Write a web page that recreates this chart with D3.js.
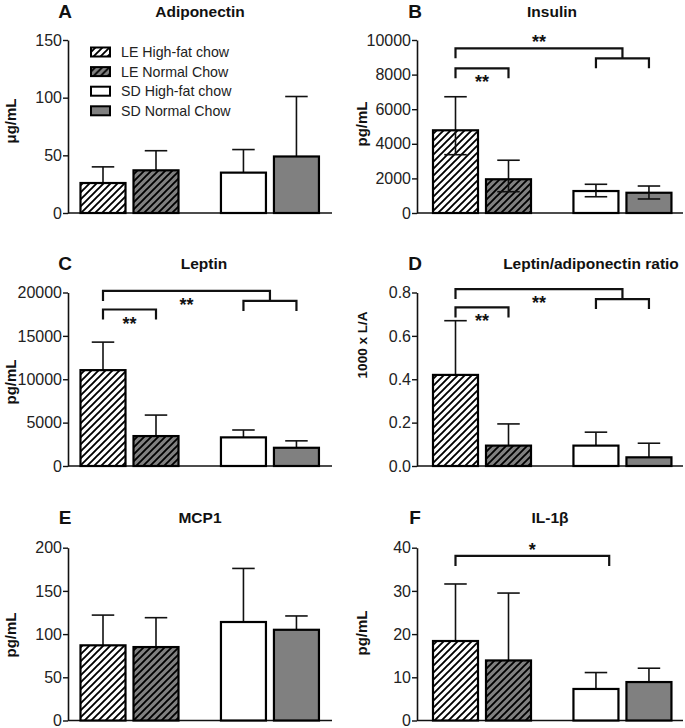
<!DOCTYPE html>
<html>
<head>
<meta charset="utf-8">
<script src="https://cdn.jsdelivr.net/npm/d3@7"></script>
<style>
  body { margin: 0; background: #fff; }
  svg { display: block; font-family: "Liberation Sans", Arial, sans-serif; }
</style>
</head>
<body>
<svg id="chart"></svg>
<script>
var W = 685, H = 728;

// groups, in bar order
var groups = ["LE High-fat chow", "LE Normal Chow", "SD High-fat chow", "SD Normal Chow"];

// values (mean, top of error bar, bottom of error bar)
var adiponectin = [26, 37, 35, 49];
var adiponectinHi = [40, 54, 55, 101];
var insulin = [4780, 1950, 1270, 1170];
var insulinHi = [6720, 3050, 1660, 1560];
var insulinLo = [3370, 1230, 940, 810];
var leptin = [11050, 3450, 3300, 2100];
var leptinHi = [14280, 5870, 4150, 2900];
var ratio = [0.42, 0.094, 0.094, 0.04];
var ratioHi = [0.67, 0.194, 0.156, 0.105];
var mcp1 = [87, 85, 114, 105];
var mcp1Hi = [122, 119, 176, 121];
var il1b = [18.4, 13.9, 7.3, 8.9];
var il1bHi = [31.6, 29.5, 11.1, 12.1];

// tick labels
var ticksA = [0, 50, 100, 150];
var ticksB = [0, 2000, 4000, 6000, 8000, 10000];
var ticksC = [0, 5000, 10000, 15000, 20000];
var ticksD = [0, 0.2, 0.4, 0.6, 0.8];
var ticksE = [0, 50, 100, 150, 200];
var ticksF = [0, 10, 20, 30, 40];

// bar slots (second group set apart)
var slots = [0, 1, 2.65, 3.65];

var cols = [
  {axisX: 68, endX: 332, bar0: 103, labX: 11, letX: 65},
  {axisX: 417, endX: 683, bar0: 455.5, labX: 362, letX: 415}
];
var rows = [
  {top: 40, bottom: 213, titleY: 11},
  {top: 292.5, bottom: 466, titleY: 263},
  {top: 547.7, bottom: 720.5, titleY: 517}
];

var panels = [
  {letter: "A", title: "Adiponectin", titleX: 200, ylab: "\u03bcg/mL", labY: 121, labSize: 15, col: 0, row: 0,
   vals: adiponectin, hi: adiponectinHi, lo: null, ticks: ticksA, fmt: d3.format("d"), brackets: [], legend: true},
  {letter: "B", title: "Insulin", titleX: 552, ylab: "pg/mL", labY: 124, labSize: 15, col: 1, row: 0,
   vals: insulin, hi: insulinHi, lo: insulinLo, ticks: ticksB, fmt: d3.format("d"),
   brackets: [{a: 0, b: [2, 3], y: 9520, label: "**", pos: "above"},
              {a: 0, b: 1, y: 8365, label: "**", pos: "below"}]},
  {letter: "C", title: "Leptin", titleX: 204, ylab: "pg/mL", labY: 382, labSize: 15, col: 0, row: 1,
   vals: leptin, hi: leptinHi, lo: null, ticks: ticksC, fmt: d3.format("d"),
   brackets: [{a: 0, b: [2, 3], y: 20185, label: "**", pos: "below"},
              {a: 0, b: 1, y: 18040, label: "**", pos: "below"}]},
  {letter: "D", title: "Leptin/adiponectin ratio", titleX: 591, ylab: "1000 x L/A", labY: 345, labSize: 13.5, col: 1, row: 1,
   vals: ratio, hi: ratioHi, lo: null, ticks: ticksD, fmt: d3.format(".1f"),
   brackets: [{a: 0, b: [2, 3], y: 0.816, label: "**", pos: "below"},
              {a: 0, b: 1, y: 0.731, label: "**", pos: "below"}]},
  {letter: "E", title: "MCP1", titleX: 200, ylab: "pg/mL", labY: 635, labSize: 15, col: 0, row: 2,
   vals: mcp1, hi: mcp1Hi, lo: null, ticks: ticksE, fmt: d3.format("d"), brackets: []},
  {letter: "F", title: "IL-1\u03b2", titleX: 550, ylab: "pg/mL", labY: 633, labSize: 15, col: 1, row: 2,
   vals: il1b, hi: il1bHi, lo: null, ticks: ticksF, fmt: d3.format("d"),
   brackets: [{a: 0, b: 2.9, y: 38.1, label: "*", pos: "above"}]}
];

var fills = ["url(#hatchW)", "url(#hatchG)", "#ffffff", "#808080"];
var ink = "#111";

var svg = d3.select("#chart").attr("width", W).attr("height", H);

// hatch patterns
var defs = svg.append("defs");
[["hatchW", "#ffffff"], ["hatchG", "#808080"]].forEach(function (p) {
  var pat = defs.append("pattern")
    .attr("id", p[0])
    .attr("patternUnits", "userSpaceOnUse")
    .attr("width", 7).attr("height", 7);
  pat.append("rect").attr("width", 7).attr("height", 7).attr("fill", p[1]);
  pat.append("path")
    .attr("d", "M-1,1 l2,-2 M0,7 l7,-7 M6,8 l2,-2")
    .attr("stroke", "#000").attr("stroke-width", 1.9);
});

panels.forEach(function (p) {
  var c = cols[p.col], r = rows[p.row];
  var g = svg.append("g");
  var y = d3.scaleLinear().domain([0, p.ticks[p.ticks.length - 1]]).range([r.bottom, r.top]);
  var x = d3.scaleLinear().domain([0, 1]).range([c.bar0, c.bar0 + 53]);
  var bw = 45;

  // letter and title
  g.append("text").attr("x", c.letX).attr("y", r.titleY).attr("dy", "0.36em")
    .attr("text-anchor", "middle").attr("font-size", 19).attr("font-weight", "bold")
    .attr("fill", ink).text(p.letter);
  g.append("text").attr("x", p.titleX).attr("y", r.titleY).attr("dy", "0.36em")
    .attr("text-anchor", "middle").attr("font-size", 15.5).attr("font-weight", "bold")
    .attr("fill", ink).text(p.title);

  // y label
  g.append("text")
    .attr("transform", "translate(" + c.labX + "," + p.labY + ") rotate(-90)")
    .attr("dy", "0.36em").attr("text-anchor", "middle")
    .attr("font-size", p.labSize).attr("font-weight", "bold").attr("fill", ink)
    .text(p.ylab);

  // y axis
  var ax = g.append("g").attr("transform", "translate(" + c.axisX + ",0)")
    .call(d3.axisLeft(y).tickValues(p.ticks).tickFormat(p.fmt).tickSize(5).tickSizeOuter(0).tickPadding(1));
  ax.select(".domain").attr("stroke", ink).attr("stroke-width", 1.6);
  ax.selectAll(".tick line").attr("stroke", ink).attr("stroke-width", 1.4);
  ax.selectAll(".tick text").attr("font-size", 16).attr("fill", "#222")
    .attr("font-family", "'Liberation Sans', Arial, sans-serif");

  // x axis baseline
  g.append("line").attr("x1", c.axisX).attr("x2", c.endX)
    .attr("y1", y(0)).attr("y2", y(0)).attr("stroke", ink).attr("stroke-width", 1.6);

  // error bars: upper part first, bars over it, lower part on top
  var data = p.vals.map(function (v, i) {
    return {i: i, v: v, hi: p.hi[i], lo: p.lo ? p.lo[i] : null};
  });
  var err = g.selectAll(".err").data(data).enter().append("g");
  err.append("line")
    .attr("x1", function (d) { return x(slots[d.i]); })
    .attr("x2", function (d) { return x(slots[d.i]); })
    .attr("y1", function (d) { return y(d.v); })
    .attr("y2", function (d) { return y(d.hi); })
    .attr("stroke", ink).attr("stroke-width", 1.6);
  err.append("line")
    .attr("x1", function (d) { return x(slots[d.i]) - bw / 4; })
    .attr("x2", function (d) { return x(slots[d.i]) + bw / 4; })
    .attr("y1", function (d) { return y(d.hi); })
    .attr("y2", function (d) { return y(d.hi); })
    .attr("stroke", ink).attr("stroke-width", 1.6);

  g.selectAll(".bar").data(data).enter().append("rect")
    .attr("x", function (d) { return x(slots[d.i]) - bw / 2; })
    .attr("y", function (d) { return y(d.v); })
    .attr("width", bw)
    .attr("height", function (d) { return y(0) - y(d.v); })
    .attr("fill", function (d) { return fills[d.i]; })
    .attr("stroke", "#000").attr("stroke-width", 2.2);

  if (p.lo) {
    var lo = g.selectAll(".lo").data(data).enter().append("g");
    lo.append("line")
      .attr("x1", function (d) { return x(slots[d.i]); })
      .attr("x2", function (d) { return x(slots[d.i]); })
      .attr("y1", function (d) { return y(d.v); })
      .attr("y2", function (d) { return y(d.lo); })
      .attr("stroke", ink).attr("stroke-width", 1.6);
    lo.append("line")
      .attr("x1", function (d) { return x(slots[d.i]) - bw / 4; })
      .attr("x2", function (d) { return x(slots[d.i]) + bw / 4; })
      .attr("y1", function (d) { return y(d.lo); })
      .attr("y2", function (d) { return y(d.lo); })
      .attr("stroke", ink).attr("stroke-width", 1.6);
  }

  // significance brackets
  var leg = 10;
  p.brackets.forEach(function (b) {
    var yb = y(b.y);
    var xa = x(slots[b.a]);
    var xb;
    var path;
    if (Array.isArray(b.b)) {
      var s1 = x(slots[b.b[0]]), s2 = x(slots[b.b[1]]);
      xb = (s1 + s2) / 2;
      path = "M" + xa + "," + (yb + leg) + "V" + yb + "H" + xb + "V" + (yb + leg) +
             "M" + s1 + "," + (yb + 2 * leg) + "V" + (yb + leg) + "H" + s2 + "V" + (yb + 2 * leg);
    } else {
      xb = Number.isInteger(b.b) ? x(slots[b.b]) : x(b.b);
      path = "M" + xa + "," + (yb + leg) + "V" + yb + "H" + xb + "V" + (yb + leg);
    }
    g.append("path").attr("d", path).attr("fill", "none")
      .attr("stroke", ink).attr("stroke-width", 2.2);
    var ty = b.pos === "above" ? yb - 10 : yb + 10;
    g.append("text").attr("x", (xa + xb) / 2).attr("y", ty + 10)
      .attr("text-anchor", "middle").attr("font-size", 18).attr("font-weight", "bold")
      .attr("fill", ink).text(b.label);
  });

  // legend
  if (p.legend) {
    var lg = g.selectAll(".lg").data(groups).enter().append("g")
      .attr("transform", function (d, i) { return "translate(91," + (52 + i * 19.6) + ")"; });
    lg.append("rect").attr("x", 0).attr("y", -4.5).attr("width", 19).attr("height", 9)
      .attr("fill", function (d, i) { return fills[i]; })
      .attr("stroke", "#000").attr("stroke-width", 2);
    lg.append("text").attr("x", 30).attr("y", 0).attr("dy", "0.36em")
      .attr("font-size", 14.2).attr("fill", "#222").text(function (d) { return d; });
  }
});
</script>
</body>
</html>
